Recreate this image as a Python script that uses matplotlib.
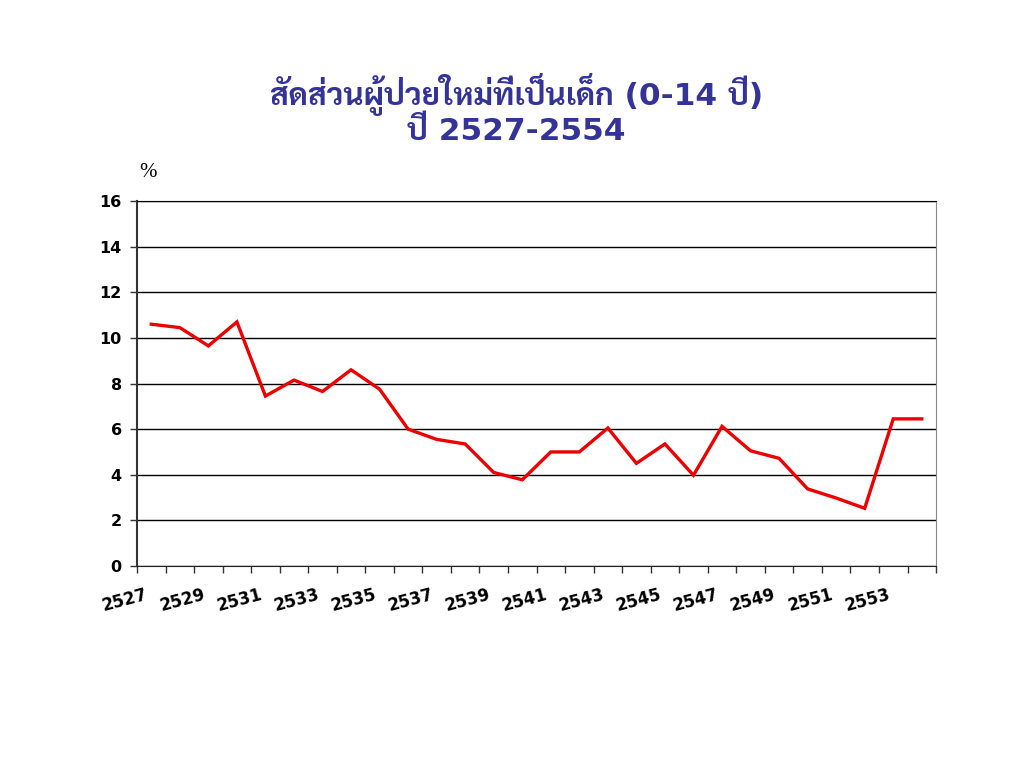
import matplotlib
matplotlib.use('Agg')
import matplotlib.pyplot as plt
import matplotlib.transforms as mtransforms
import numpy as np

# years (Buddhist era) and share of new patients who are children (%)
years = list(range(2527, 2555))
share = [10.6, 10.45, 9.65, 10.7, 7.45, 8.15, 7.65, 8.6, 7.75, 6.0,
         5.55, 5.35, 4.1, 3.78, 5.0, 5.0, 6.05, 4.5, 5.35, 3.98,
         6.12, 5.05, 4.72, 3.38, 2.98, 2.53, 6.45, 6.45]
yticks = [0, 2, 4, 6, 8, 10, 12, 14, 16]

title = 'สัดส่วนผู้ป่วยใหม่ที่เป็นเด็ก (0-14 ปี)\nปี 2527-2554'
font_list = ['DejaVu Sans', 'Sarabun', 'Noto Sans Thai', 'Anuphan']

fig = plt.figure(figsize=(10.24, 7.68), dpi=100)
ax = fig.add_axes([0.1338, 0.263, 0.7803, 0.4753])

x = np.arange(len(years))
ax.plot(x, share, color='#ee0000', lw=2.4, solid_joinstyle='miter')

ax.set_xlim(-0.5, len(years) - 0.5)
ax.set_ylim(0, 16)

# category boundaries get the tick marks, labels sit on every second category
ax.set_xticks(np.arange(-0.5, len(years), 1.0))
ax.set_xticklabels([])
ax.tick_params(axis='x', which='major', direction='out', length=5, width=1, color='#333333')
ax.set_xticks(x[::2], minor=True)
ax.set_xticklabels([str(y) for y in years[::2]], minor=True, rotation=15,
                   ha='right', va='top', rotation_mode='anchor',
                   fontsize=12, fontweight='bold', family='DejaVu Sans')
ax.tick_params(axis='x', which='minor', length=0, pad=14)
shift = mtransforms.ScaledTranslation(-0.06, 0, fig.dpi_scale_trans)
for lab in ax.get_xticklabels(minor=True):
    lab.set_transform(lab.get_transform() + shift)

ax.set_yticks(yticks)
ax.set_yticklabels([str(v) for v in yticks], fontsize=11.5, fontweight='bold',
                   family='DejaVu Sans')
ax.tick_params(axis='y', direction='out', length=5, width=1, color='#333333', pad=6)

ax.grid(axis='y', color='black', lw=1)
ax.set_axisbelow(True)
ax.spines['left'].set_color('#333333')
ax.spines['left'].set_linewidth(1.5)
ax.spines['bottom'].set_color('#222222')
ax.spines['top'].set_color('black')
ax.spines['right'].set_color('#888888')

fig.text(0.1445, 0.776, '%', fontsize=15, family='Liberation Serif', ha='center', va='center')

fig.text(0.504, 0.858, title, ha='center', va='center', fontsize=22.5,
         fontweight='bold', color='#333399', family=font_list, linespacing=1.02)

fig.savefig('out.png', dpi=100)
